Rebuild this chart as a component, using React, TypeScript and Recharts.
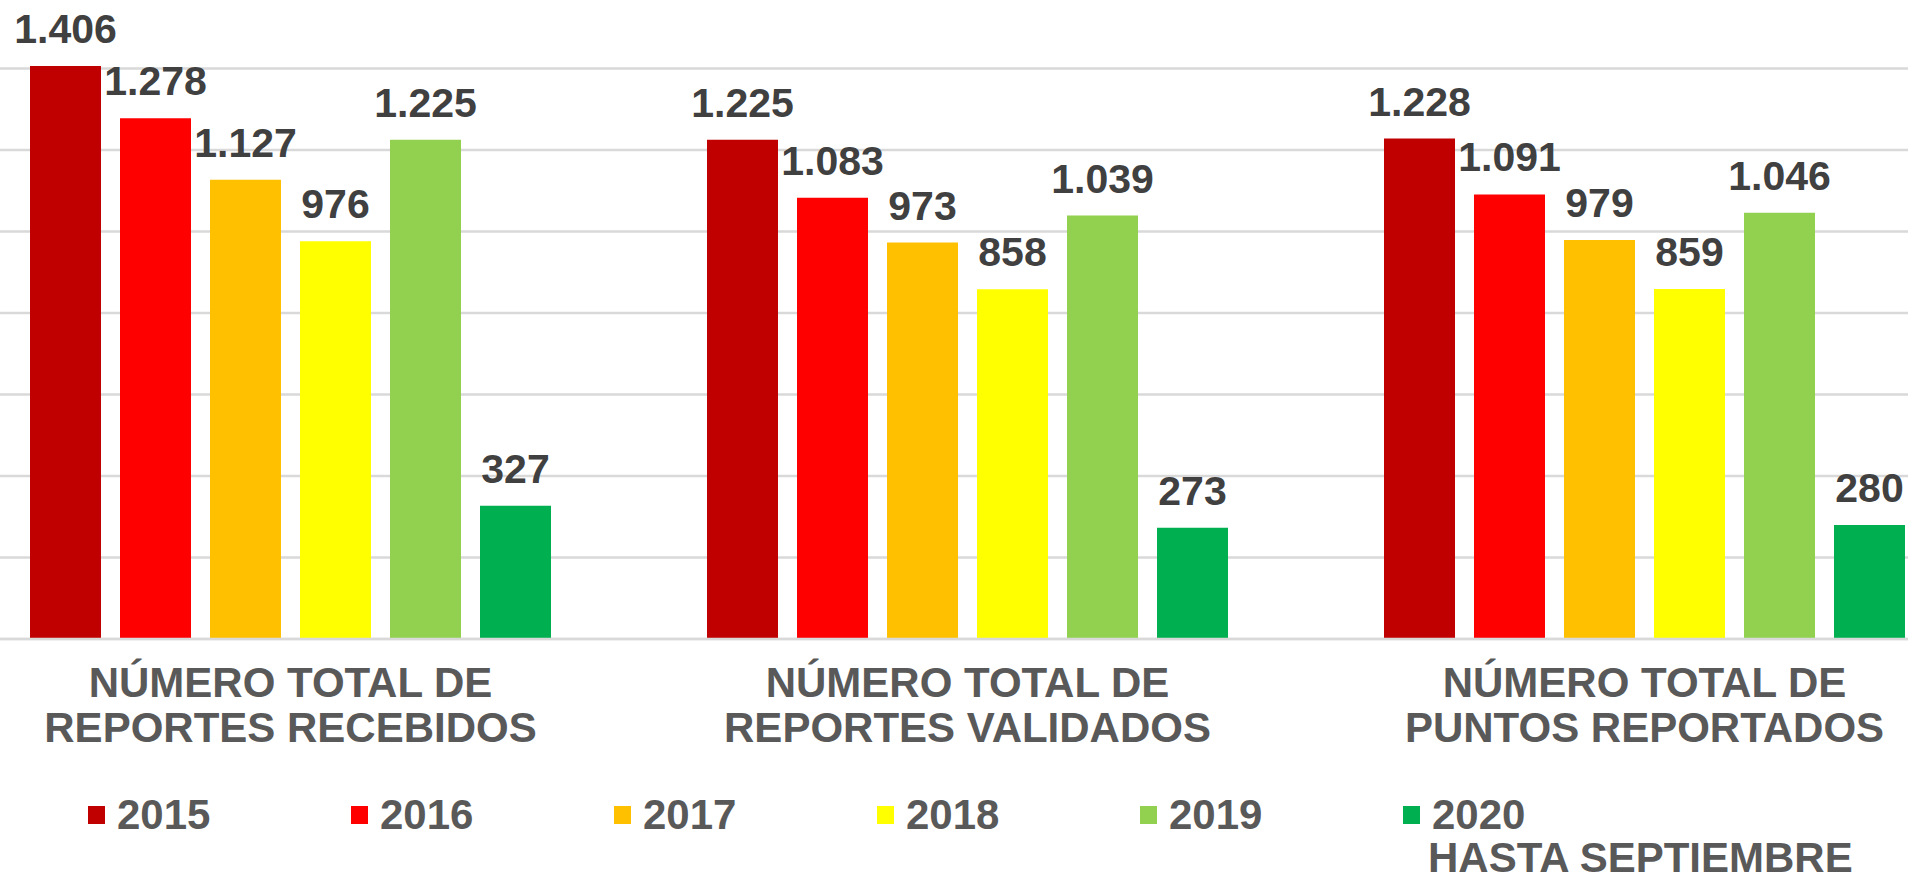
import { BarChart, Bar, XAxis, YAxis, CartesianGrid, Legend, LabelList } from 'recharts';

const categories = [
  'NÚMERO TOTAL DE\nREPORTES RECEBIDOS',
  'NÚMERO TOTAL DE\nREPORTES VALIDADOS',
  'NÚMERO TOTAL DE\nPUNTOS REPORTADOS',
];

const seriesKeys = ['y2015', 'y2016', 'y2017', 'y2018', 'y2019', 'y2020'];
const seriesNames = ['2015', '2016', '2017', '2018', '2019', '2020\nHASTA SEPTIEMBRE'];
const seriesColors = ['#C00000', '#FF0000', '#FFC000', '#FFFF00', '#92D050', '#00B050'];

const values2015 = [1406, 1225, 1228];
const values2016 = [1278, 1083, 1091];
const values2017 = [1127, 973, 979];
const values2018 = [976, 858, 859];
const values2019 = [1225, 1039, 1046];
const values2020 = [327, 273, 280];

const yTicks = [0, 200, 400, 600, 800, 1000, 1200, 1400, 1600];

const allValues = [values2015, values2016, values2017, values2018, values2019, values2020];

const data = categories.map((name, i) => {
  const row: Record<string, string | number> = { name };
  seriesKeys.forEach((k, s) => {
    row[k] = allValues[s][i];
  });
  return row;
});

const FONT = '"Liberation Sans", Arial, sans-serif';
const CHART_W = 2031;
const CHART_H = 892;

function fmt(v: number) {
  return String(v).replace(/\B(?=(\d{3})+(?!\d))/g, '.');
}

function ValueLabel(props: any) {
  const { x, y, width, value } = props;
  return (
    <text
      x={x + width / 2}
      y={y - 23}
      textAnchor="middle"
      fill="#404040"
      fontSize={41}
      fontWeight={700}
      fontFamily={FONT}
    >
      {fmt(value)}
    </text>
  );
}

function CategoryTick(props: any) {
  const { x, y, payload } = props;
  const lines = String(payload.value).split('\n');
  return (
    <g>
      {lines.map((line, i) => (
        <text
          key={i}
          x={x}
          y={y + 50 + i * 45}
          textAnchor="middle"
          fill="#595959"
          fontSize={42}
          fontWeight={700}
          fontFamily={FONT}
        >
          {line}
        </text>
      ))}
    </g>
  );
}

function YearLegend() {
  return (
    <div style={{ position: 'relative', width: CHART_W, height: 110, fontFamily: FONT }}>
      {seriesNames.map((name, i) => {
        const lines = name.split('\n');
        return (
          <div
            key={name}
            style={{ position: 'absolute', left: 136 + i * 263, top: 28 }}
          >
            <div
              style={{
                position: 'absolute',
                left: 0,
                top: 9,
                width: 17,
                height: 18,
                background: seriesColors[i],
              }}
            />
            {lines.map((line, j) => (
              <div
                key={j}
                style={{
                  position: 'absolute',
                  left: j === 0 ? 29 : 25,
                  top: j * 43,
                  whiteSpace: 'nowrap',
                  fontSize: 42,
                  lineHeight: '36px',
                  fontWeight: 700,
                  color: '#595959',
                }}
              >
                {line}
              </div>
            ))}
          </div>
        );
      })}
    </div>
  );
}

export default function App() {
  return (
    <div
      style={{
        position: 'fixed',
        left: 0,
        top: 0,
        width: 1908,
        height: 880,
        overflow: 'hidden',
        background: '#ffffff',
      }}
    >
      <div style={{ position: 'absolute', left: -48, top: -13 }}>
        <BarChart
          width={CHART_W}
          height={CHART_H}
          data={data}
          margin={{ top: 0, right: 0, bottom: 0, left: 0 }}
          barSize={71}
          barGap={19}
        >
          <CartesianGrid vertical={false} stroke="#d9d9d9" strokeWidth={2.5} />
          <XAxis
            dataKey="name"
            height={130}
            axisLine={{ stroke: '#d9d9d9', strokeWidth: 2.5 }}
            tickLine={false}
            interval={0}
            tick={<CategoryTick />}
          />
          <YAxis hide domain={[0, 1600]} ticks={yTicks} />
          <Legend verticalAlign="bottom" height={110} content={<YearLegend />} wrapperStyle={{ left: 0, width: CHART_W }} />
          {seriesKeys.map((k, s) => (
            <Bar key={k} dataKey={k} name={seriesNames[s]} fill={seriesColors[s]} isAnimationActive={false}>
              <LabelList dataKey={k} content={<ValueLabel />} />
            </Bar>
          ))}
        </BarChart>
      </div>
    </div>
  );
}
